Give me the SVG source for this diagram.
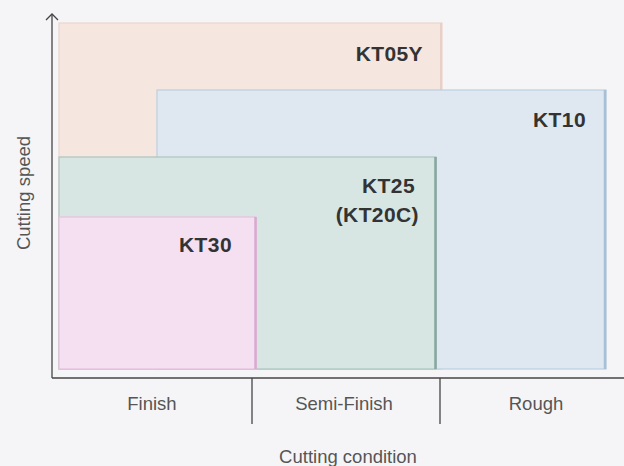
<svg xmlns="http://www.w3.org/2000/svg" width="624" height="466" viewBox="0 0 624 466">
<defs>
<style>
.axis{stroke:#444;stroke-width:1.3;fill:none}
.lbl{font-family:"Liberation Sans",Arial,sans-serif;font-size:18.5px;fill:#555}
.grade{font-family:"Liberation Sans",Arial,sans-serif;font-size:21px;font-weight:bold;fill:#333;text-anchor:end;letter-spacing:0.4px}
</style>
</defs>
<rect x="0" y="0" width="624" height="466" fill="#f5f5f7"/>
<g id="KT05Y">
<rect x="59" y="23" width="383" height="346" fill="#f5e6df" stroke="#ecd6cd" stroke-width="1.2"/>
<line x1="441" y1="23" x2="441" y2="90" stroke="#e8d0c6" stroke-width="2"/>
<text class="grade" x="423" y="61">KT05Y</text>
</g>
<g id="KT10">
<rect x="157" y="90" width="449" height="279" fill="#dfe8f0" stroke="#bccfe0" stroke-width="1.2"/>
<line x1="605" y1="90" x2="605" y2="369" stroke="#a6c0d8" stroke-width="2.5"/>
<text class="grade" x="586" y="127">KT10</text>
</g>
<g id="KT25">
<rect x="59" y="157" width="377" height="212" fill="#d8e6e3" stroke="#abc6bf" stroke-width="1.2"/>
<line x1="435.5" y1="157" x2="435.5" y2="369" stroke="#87a69e" stroke-width="2.5"/>
<text class="grade" x="415" y="193">KT25</text>
<text class="grade" x="419" y="222">(KT20C)</text>
</g>
<g id="KT30">
<rect x="59" y="217" width="197" height="152" fill="#f4e0f1" stroke="#e6c0de" stroke-width="1.2"/>
<line x1="255.5" y1="217" x2="255.5" y2="369" stroke="#d9aacf" stroke-width="2.5"/>
<text class="grade" x="232" y="252">KT30</text>
</g>
<g id="connectors">
<line class="axis" x1="52" y1="378" x2="52" y2="15"/>
<polyline class="axis" points="46,20 52,14 58,20"/>
<line class="axis" x1="52" y1="378" x2="624" y2="378"/>
<line class="axis" x1="252" y1="378" x2="252" y2="424"/>
<line class="axis" x1="440" y1="378" x2="440" y2="424"/>
</g>
<text class="lbl" x="152" y="410" text-anchor="middle">Finish</text>
<text class="lbl" x="344" y="410" text-anchor="middle">Semi-Finish</text>
<text class="lbl" x="536" y="410" text-anchor="middle">Rough</text>
<text class="lbl" x="348" y="463" text-anchor="middle">Cutting condition</text>
<text class="lbl" x="0" y="0" text-anchor="middle" transform="translate(30,193) rotate(-90)">Cutting speed</text>
</svg>
